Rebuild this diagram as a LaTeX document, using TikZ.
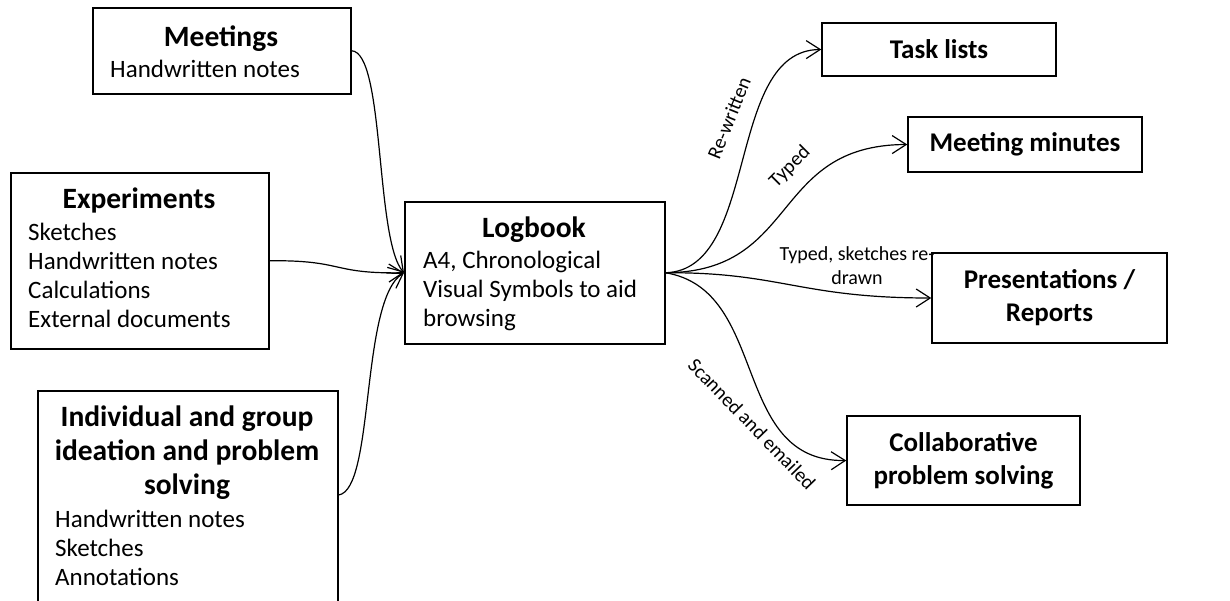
\documentclass[tikz,border=0pt]{standalone}
\usepackage{fontspec}
\setmainfont{Carlito}
\usetikzlibrary{arrows.meta}

\tikzset{
  box/.style={draw, line width=1.5pt, inner sep=0pt, anchor=north west},
  outbox/.style={draw, line width=1.5pt, align=center, font=\fontsize{27}{33}\selectfont\bfseries},
  ttl/.style={font=\fontsize{29.5}{34}\selectfont\bfseries, inner sep=0pt, align=center},
  body/.style={font=\fontsize{25}{29}\selectfont, inner sep=0pt, align=left, anchor=north west},
  lbl/.style={font=\fontsize{20}{24}\selectfont, inner sep=0pt, align=center},
  flow/.style={line width=1.2pt, -{Straight Barb[length=14pt,width=18pt,line width=1.2pt]}}
}

\begin{document}
\begin{tikzpicture}[x=1pt, y=-1pt]
\useasboundingbox (0,0) rectangle (1230,600);
\clip (0,0) rectangle (1230,600);
\fill[white] (0,0) rectangle (1230,600);

% sources
\node[box, minimum width=258pt, minimum height=86pt] (meet) at (92,7) {};
\node[ttl, anchor=base] (meett) at (221,46) {Meetings};
\node[body] (meetb) at (110,57) {\strut Handwritten notes};

\node[box, minimum width=258pt, minimum height=176pt] (exp) at (10,172) {};
\node[ttl, anchor=base] (expt) at (139,208) {Experiments};
\node[body] (expb) at (28,220) {\strut Sketches\\Handwritten notes\\Calculations\\External documents};

\node[box, minimum width=300pt, minimum height=230pt] (ind) at (37,390) {};
\node[ttl, anchor=north] (indt) at (187,406) {Individual and group\\ideation and problem\\solving};
\node[body] (indb) at (55,507) {\strut Handwritten notes\\Sketches\\Annotations};
\coordinate (indout) at ([yshift=-105pt]ind.north east);

% logbook
\node[box, minimum width=260pt, minimum height=142pt] (log) at (404,201) {};
\node[ttl, anchor=base] (logt) at (534,237) {Logbook};
\node[body] (logb) at (423,248) {\strut A4, Chronological\\Visual Symbols to aid\\browsing};

% outputs
\node[outbox, minimum width=234pt, minimum height=53pt] (task) at (939,49.5) {Task lists};
\node[outbox, minimum width=234pt, minimum height=55pt] (mins) at (1025,144.5) {Meeting minutes};
\node[outbox, minimum width=235pt, minimum height=90pt] (pres) at (1049.5,298) {Presentations /\\Reports};
\node[outbox, minimum width=233pt, minimum height=89pt] (coll) at (963.5,460.5) {Collaborative\\problem solving};

% inputs into the logbook
\draw[flow] (meet.east) .. controls (385,52) and (375,240) .. (log.west);
\draw[flow] (exp.east) .. controls (345,260) and (330,274) .. (log.west);
\draw[flow] (indout) .. controls (375,490) and (360,300) .. (log.west);

% outputs from the logbook
\draw[flow] (log.east) .. controls (760,270) and (725,50) .. (task.west);
\draw[flow] (log.east) .. controls (800,272) and (770,145) .. (mins.west);
\draw[flow] (log.east) .. controls (780,272) and (800,298) .. (pres.west);
\draw[flow] (log.east) .. controls (770,290) and (730,462) .. (coll.west);

% connector labels
\node[lbl, rotate=68] (lrw) at (729,118) {Re-written};
\node[lbl, rotate=45] (lty) at (790,167) {Typed};
\node[lbl] (lts) at (857,266) {Typed, sketches re-\\drawn};
\node[lbl, rotate=-46] (lsc) at (752,424) {Scanned and emailed};
\end{tikzpicture}
\end{document}
